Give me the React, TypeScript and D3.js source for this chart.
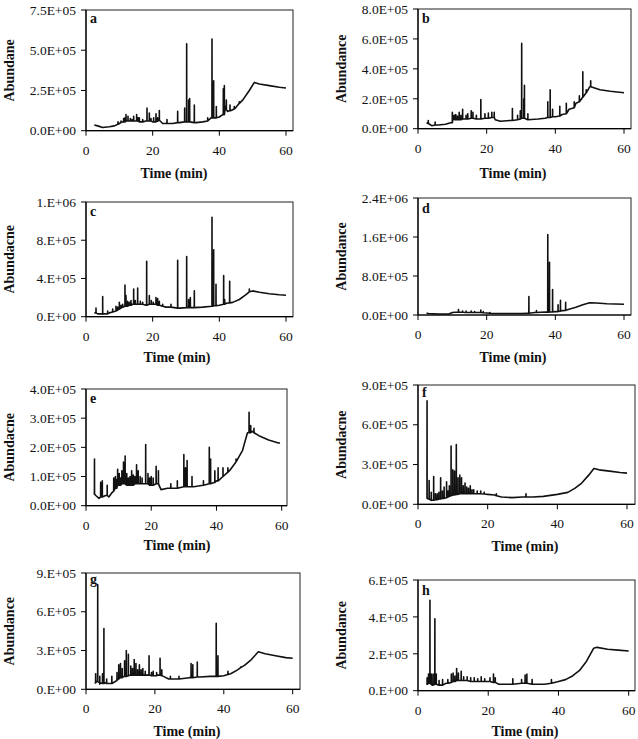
import React from "react";
import * as d3 from "d3";

// Abundance values are in units of 1E+05; time in minutes.
const UNIT = 1e5;
const xTicks = [0, 20, 40, 60];

// baseline points [time, abundance]
const baseA = [[2.5,0.35],[3.5,0.3],[5,0.2],[7,0.25],[8.5,0.3],[10,0.45],[11,0.55],[12,0.6],[14,0.6],[16,0.55],[18,0.6],[20,0.55],[22,0.65],[23,0.45],[26,0.45],[28,0.5],[30,0.55],[31,0.55],[33,0.5],[35,0.55],[36.5,0.6],[37.5,0.8],[38.5,0.8],[40,0.85],[41,1.0],[41.8,1.5],[42.5,1.2],[43.5,1.25],[45,1.45],[47,1.9],[49,2.5],[50.5,3.0],[52,2.9],[55,2.8],[58,2.7],[60,2.65]];
// peaks [time, base, top]
const peaksA = [[9.6,0.4,0.55],[10.5,0.5,0.6],[11.3,0.55,0.75],[11.7,0.55,0.8],[12,0.6,1.0],[12.6,0.6,0.9],[13.3,0.6,0.75],[13.8,0.6,0.7],[14.3,0.6,0.9],[15.2,0.6,1.0],[15.6,0.6,0.8],[16,0.55,0.8],[17,0.55,0.7],[18.3,0.6,1.4],[19,0.6,1.1],[19.5,0.6,0.75],[20.3,0.55,0.8],[21,0.55,1.05],[21.5,0.6,0.8],[22,0.65,1.25],[24.3,0.45,0.7],[27.5,0.5,1.2],[29.6,0.55,1.4],[30.2,0.55,5.4],[30.8,0.55,1.9],[31.1,0.55,2.0],[32.5,0.5,1.6],[36.5,0.6,0.8],[37.8,0.8,5.7],[38.3,0.8,3.1],[39.1,0.8,1.5],[41.2,1.0,2.6],[41.5,1.0,2.8],[42.1,1.3,1.9],[43.2,1.25,1.6],[44.5,1.35,1.5],[46,1.7,1.8]];

const baseB = [[2.5,0.4],[3,0.35],[4,0.2],[6,0.25],[8,0.3],[9.5,0.4],[10.2,0.9],[11,0.6],[14,0.65],[16,0.7],[18,0.65],[20,0.7],[22,0.75],[22.5,0.6],[24,0.5],[27,0.55],[29,0.6],[30.5,0.7],[32,0.6],[35,0.65],[37,0.7],[40,0.8],[42,0.95],[44,1.3],[46,1.7],[48,2.2],[50,2.8],[51,2.75],[53,2.6],[56,2.5],[60,2.4]];
const peaksB = [[3,0.35,0.55],[5,0.25,0.45],[10,0.4,1.1],[10.6,0.6,0.9],[11,0.6,0.95],[11.5,0.6,0.85],[12,0.6,1.1],[12.5,0.6,0.9],[13,0.65,1.3],[14,0.65,0.9],[14.5,0.65,1.0],[15.5,0.7,1.2],[16,0.7,1.1],[17,0.65,0.9],[18.3,0.65,1.95],[19.5,0.7,1.0],[20.5,0.7,1.05],[21.5,0.75,1.1],[22.2,0.75,1.1],[27.5,0.55,1.35],[29,0.6,0.9],[29.8,0.65,1.2],[30.2,0.7,5.7],[30.8,0.7,2.0],[31,0.7,2.9],[32,0.6,1.0],[37.8,0.75,1.8],[38.5,0.75,2.6],[39.2,0.8,1.3],[41.3,0.85,1.5],[43.2,1.0,1.7],[45.5,1.4,1.8],[47,1.8,2.2],[48,2.1,3.8],[49,2.4,2.6],[50.3,2.8,3.2]];

const baseC = [[2.5,0.4],[3,0.6],[3.5,0.3],[5,0.25],[7,0.4],[9,0.6],[10,0.9],[12,1.2],[14,1.3],[16,1.3],[18,1.2],[20,1.3],[22,1.2],[24,1.0],[28,0.9],[32,0.95],[35,1.0],[38,1.1],[40,1.2],[42,1.4],[44,1.5],[46,1.8],[48,2.3],[49,2.6],[50,2.7],[52,2.55],[55,2.4],[58,2.3],[60,2.25]];
const peaksC = [[3,0.4,0.9],[5,0.3,2.1],[6.5,0.3,0.6],[8,0.5,0.8],[9,0.6,1.1],[9.5,0.7,1.0],[10,0.8,1.5],[10.5,0.9,1.2],[11,1.0,1.3],[11.7,1.1,3.3],[12,1.1,2.2],[12.5,1.1,1.6],[13,1.2,1.5],[13.5,1.2,1.7],[14.3,1.3,2.9],[14.8,1.3,1.7],[15.5,1.3,3.0],[16.3,1.3,1.6],[17,1.3,1.5],[18.2,1.2,5.8],[19,1.3,2.2],[19.6,1.3,1.7],[20.2,1.3,1.5],[21,1.3,2.0],[21.5,1.2,1.9],[22,1.2,1.6],[23,1.1,1.3],[25.5,1.0,1.3],[27.5,0.9,5.9],[30.2,0.95,6.3],[30.8,0.95,1.8],[31.3,0.95,2.0],[32.5,0.95,2.7],[37.8,1.1,10.4],[38.3,1.15,7.0],[39,1.15,3.4],[41.3,1.3,4.3],[41.6,1.3,1.8],[43.1,1.45,3.7],[49,2.6,2.9]];

const baseD = [[2.5,0.4],[3,0.3],[6,0.2],[9,0.2],[10,0.5],[12,0.6],[15,0.5],[18,0.5],[20,0.4],[22,0.3],[25,0.3],[30,0.3],[32,0.35],[34,0.5],[37,0.6],[40,0.7],[42,0.9],[44,1.2],[46,1.6],[48,2.1],[50,2.5],[52,2.45],[55,2.3],[60,2.2]];
const peaksD = [[11.8,0.6,1.1],[13,0.55,0.8],[14,0.5,0.8],[15.5,0.5,0.8],[16.5,0.5,0.7],[18.3,0.5,1.0],[19,0.45,0.7],[21,0.35,0.5],[32.3,0.35,3.8],[34.5,0.5,0.9],[37.8,0.6,16.5],[38.3,0.6,10.8],[39.2,0.65,5.2],[40.8,0.7,2.1],[41.5,0.8,3.0],[43,0.95,2.6]];

const baseE = [[2.5,0.45],[3,0.35],[4,0.25],[5,0.3],[6,0.35],[7,0.3],[8,0.45],[9,0.6],[10,0.7],[12,0.75],[14,0.7],[16,0.75],[18,0.75],[20,0.7],[22,0.75],[23,0.55],[25,0.6],[28,0.6],[30,0.65],[33,0.65],[36,0.7],[38,0.75],[40,0.85],[42,1.0],[44,1.2],[46,1.5],[48,1.9],[49.5,2.5],[51,2.55],[53,2.4],[56,2.25],[59,2.15],[59.5,2.15]];
const peaksE = [[2.6,0.4,1.6],[4.5,0.3,0.8],[5,0.3,0.85],[6.5,0.35,0.7],[8.5,0.5,0.95],[9,0.6,1.0],[9.4,0.6,0.9],[9.7,0.7,1.25],[10.2,0.7,1.1],[10.6,0.7,0.95],[11,0.75,1.2],[11.5,0.75,1.5],[12,0.75,1.7],[12.5,0.7,1.1],[13,0.7,0.95],[13.5,0.7,1.0],[14,0.7,1.2],[14.5,0.7,1.05],[15,0.75,1.0],[15.5,0.75,1.4],[16,0.75,1.2],[16.6,0.75,1.0],[17.2,0.75,0.95],[18.3,0.75,2.1],[19,0.75,1.1],[19.5,0.7,0.95],[20,0.7,1.0],[20.6,0.7,0.95],[21.5,0.75,1.35],[22.2,0.75,1.2],[26,0.6,0.75],[28,0.6,0.85],[30,0.65,1.75],[30.5,0.65,1.3],[31,0.65,1.55],[32.5,0.65,1.0],[36,0.7,0.85],[37.8,0.75,2.0],[38.2,0.75,1.6],[39.5,0.8,1.2],[40.5,0.85,1.3],[42,1.0,1.3],[43.5,1.15,1.3],[46,1.5,1.6],[50,2.5,3.2],[50.5,2.5,2.75],[51.5,2.5,2.65]];

const baseF = [[2.5,0.45],[3,0.4],[4,0.3],[5,0.35],[7,0.45],[9,0.6],[10,0.7],[12,0.8],[14,0.8],[16,0.8],[18,0.8],[20,0.75],[22,0.7],[24,0.55],[27,0.5],[30,0.55],[33,0.55],[36,0.6],[40,0.75],[43,0.9],[45,1.2],[47,1.6],[49,2.2],[50.5,2.7],[52,2.6],[55,2.5],[58,2.4],[60,2.35]];
const peaksF = [[2.6,0.45,7.8],[3.2,0.4,1.8],[3.8,0.3,0.9],[4.5,0.3,2.1],[5,0.35,0.8],[5.5,0.35,0.8],[6,0.4,0.9],[6.5,0.4,2.0],[7,0.45,1.0],[7.5,0.45,1.3],[8.2,0.5,1.7],[8.6,0.55,1.0],[9,0.6,1.4],[9.5,0.65,4.4],[10,0.7,2.6],[10.5,0.7,2.5],[11,0.75,4.5],[11.5,0.75,2.0],[12,0.8,2.2],[12.5,0.8,2.0],[13,0.8,1.4],[13.5,0.8,1.6],[14,0.8,1.3],[14.5,0.8,1.2],[15,0.8,1.4],[15.5,0.8,1.1],[16,0.8,1.1],[17,0.8,1.0],[18,0.8,1.0],[19,0.78,0.9],[22.5,0.65,0.8],[31,0.55,0.8]];

const baseG = [[2.5,0.5],[3,0.6],[4,0.4],[5.5,0.5],[7,0.45],[8.5,0.6],[9.5,0.9],[11,1.0],[13,1.1],[15,1.1],[17,1.1],[19,1.05],[21,1.1],[22.5,1.0],[24,0.8],[27,0.8],[30,0.9],[33,0.95],[36,1.0],[38,1.0],[40,1.05],[42,1.2],[44,1.5],[46,1.85],[48,2.3],[50,2.9],[52,2.75],[55,2.6],[58,2.45],[60,2.4]];
const peaksG = [[2.8,0.5,1.2],[3.4,0.6,8.1],[4,0.5,1.0],[4.8,0.45,1.2],[5.2,0.45,4.7],[6,0.45,0.8],[7.5,0.45,1.0],[9,0.7,1.3],[9.5,0.8,1.9],[10,0.9,2.0],[10.5,0.9,1.6],[11.2,1.0,2.2],[11.7,1.0,3.0],[12.3,1.05,2.7],[13,1.1,1.8],[13.5,1.1,1.6],[14,1.1,2.3],[14.5,1.1,2.0],[15,1.1,1.5],[15.5,1.1,1.9],[16,1.1,1.5],[16.5,1.1,1.6],[17.2,1.1,1.4],[18.3,1.1,2.6],[19,1.05,1.3],[19.5,1.05,1.4],[20.5,1.05,1.3],[21.5,1.1,2.4],[22,1.05,1.5],[24.5,0.8,1.0],[27,0.8,1.0],[30.5,0.9,2.0],[31,0.9,1.9],[32.3,0.95,2.1],[37.8,1.0,5.1],[38.3,1.0,2.6],[41.2,1.15,1.4],[45,1.7,1.75]];

const baseH = [[2.5,0.4],[3,0.45],[4,0.3],[5,0.35],[6,0.3],[8,0.4],[10,0.5],[12,0.55],[14,0.55],[16,0.5],[18,0.5],[20,0.5],[22,0.45],[23,0.35],[26,0.35],[30,0.4],[33,0.35],[36,0.35],[38,0.4],[40,0.5],[42,0.6],[44,0.8],[46,1.1],[48,1.6],[50,2.3],[51,2.35],[54,2.25],[57,2.2],[60,2.15]];
const peaksH = [[2.6,0.35,0.7],[3,0.4,0.9],[3.4,0.4,4.9],[3.8,0.35,0.9],[4.3,0.3,0.9],[4.8,0.35,3.9],[5.2,0.35,0.9],[6,0.3,0.55],[7,0.3,0.6],[8.5,0.4,0.6],[9.5,0.45,0.9],[10,0.5,0.95],[10.5,0.5,0.8],[11,0.55,1.2],[11.5,0.55,0.95],[12.3,0.55,1.05],[13,0.55,0.75],[14,0.55,0.75],[15,0.5,0.7],[16,0.5,0.7],[17,0.5,0.65],[18,0.5,0.75],[19,0.5,0.65],[20.5,0.5,0.7],[21.5,0.45,0.9],[22,0.45,0.7],[27,0.35,0.65],[29.5,0.4,0.6],[30.5,0.4,0.85],[31,0.4,0.9],[32.5,0.35,0.6],[38,0.4,0.6]];

const panelLetters = ["a","b","c","d","e","f","g","h"];
const yTitles = ["Abundane","Abundance","Abundacne","Abundance","Abundacne","Abundacne","Abundance","Abundance"];
const yTickValues = [[0,2.5,5,7.5],[0,2,4,6,8],[0,4,8,12],[0,8,16,24],[0,1,2,3,4],[0,3,6,9],[0,3,6,9],[0,2,4,6]];
const yTickLabels = [
  ["0.0E+00","2.5E+05","5.0E+05","7.5E+05"],
  ["0.0E+00","2.0E+05","4.0E+05","6.0E+05","8.0E+05"],
  ["0.E+00","4.E+05","8.E+05","1.E+06"],
  ["0.0E+00","8.0E+05","1.6E+06","2.4E+06"],
  ["0.0E+00","1.0E+05","2.0E+05","3.0E+05","4.0E+05"],
  ["0.0E+00","3.0E+05","6.0E+05","9.0E+05"],
  ["0.E+00","3.E+05","6.E+05","9.E+05"],
  ["0.E+00","2.E+05","4.E+05","6.E+05"],
];
const baselines = [baseA, baseB, baseC, baseD, baseE, baseF, baseG, baseH];
const peakLists = [peaksA, peaksB, peaksC, peaksD, peaksE, peaksF, peaksG, peaksH];

// layout (pixels): plot box, axis title positions
const layout = [
  { l: 86, t: 10, b: 130.7, r: 293, x60: 286, tx: 174, ty: 172.7, yx: 9, ld: 13 },
  { l: 418, t: 9, b: 128.7, r: 631, x60: 624, tx: 513, ty: 172.7, yx: 341, ld: 14 },
  { l: 86, t: 202, b: 316.7, r: 293, x60: 286, tx: 177, ty: 357, yx: 9, ld: 14 },
  { l: 418, t: 198, b: 315, r: 631, x60: 624, tx: 513, ty: 357, yx: 341, ld: 15 },
  { l: 86, t: 389, b: 505.7, r: 287, x60: 281.7, tx: 177, ty: 545, yx: 9, ld: 14 },
  { l: 418, t: 385, b: 504.3, r: 635, x60: 627, tx: 525, ty: 546.5, yx: 341, ld: 12 },
  { l: 86, t: 573, b: 689.3, r: 300, x60: 292.7, tx: 187, ty: 731.5, yx: 9, ld: 11 },
  { l: 418, t: 580, b: 690.7, r: 635, x60: 628.7, tx: 525, ty: 731.5, yx: 341, ld: 15 },
];

const FONT = '"Liberation Serif", "Times New Roman", Times, serif';
const tickStyle = { fontFamily: FONT, fontSize: "13.5px" };
const titleStyle = { fontFamily: FONT, fontSize: "14px", fontWeight: 700 };

function Panel({ i }: { i: number }) {
  const L = layout[i];
  const yVals = yTickValues[i];
  const yMax = yVals[yVals.length - 1] * UNIT;
  const x = d3.scaleLinear().domain([0, 60]).range([L.l, L.x60]);
  const y = d3.scaleLinear().domain([0, yMax]).range([L.b, L.t]);
  const pts: [number, number][] = [
    ...baselines[i].map(([t, v]) => [t, v] as [number, number]),
    ...peakLists[i].flatMap(([t, b, top]) => [[t - 0.02, b], [t, top], [t + 0.02, b]] as [number, number][]),
  ].sort((p, q) => p[0] - q[0]);
  const line = d3.line<[number, number]>().x((d) => x(d[0])).y((d) => y(d[1] * UNIT));
  const cy = (L.t + L.b) / 2;
  return (
    <g>
      <rect x={L.l} y={L.t} width={L.r - L.l} height={L.b - L.t} fill="none" stroke="#222" strokeWidth={1} />
      <path d={line(pts) || ""} fill="none" stroke="#111" strokeWidth={1.6} strokeLinejoin="round" />
      <line x1={L.l} x2={L.l} y1={L.t} y2={L.b} stroke="#000" strokeWidth={1.2} />
      <line x1={L.l} x2={L.r} y1={L.b} y2={L.b} stroke="#000" strokeWidth={1.2} />
      {yVals.map((v, k) => (
        <g key={"y" + k}>
          <line x1={L.l - 5} x2={L.l} y1={y(v * UNIT)} y2={y(v * UNIT)} stroke="#000" strokeWidth={1} />
          <text x={L.l - 10} y={y(v * UNIT)} dy="0.35em" textAnchor="end" style={tickStyle} fill="#111">
            {yTickLabels[i][k]}
          </text>
        </g>
      ))}
      {xTicks.map((v) => (
        <g key={"x" + v}>
          <line x1={x(v)} x2={x(v)} y1={L.b} y2={L.b + 5} stroke="#000" strokeWidth={1} />
          <text x={x(v)} y={L.b + 24} textAnchor="middle" style={tickStyle} fill="#111">
            {v}
          </text>
        </g>
      ))}
      <text x={L.l + 4} y={L.t + L.ld} style={titleStyle} fill="#111">
        {panelLetters[i]}
      </text>
      <text x={L.tx} y={L.ty} dy="0.35em" textAnchor="middle" style={titleStyle} fill="#111">
        Time (min)
      </text>
      <text transform={`translate(${L.yx},${cy}) rotate(-90)`} dy="0.35em" textAnchor="middle" style={titleStyle} fill="#111">
        {yTitles[i]}
      </text>
    </g>
  );
}

export default function App() {
  return (
    <svg width={638} height={739} style={{ position: "absolute", left: 0, top: 0, background: "#fff" }}>
      <rect width={638} height={739} fill="#fff" />
      {panelLetters.map((_, i) => (
        <Panel key={i} i={i} />
      ))}
    </svg>
  );
}
